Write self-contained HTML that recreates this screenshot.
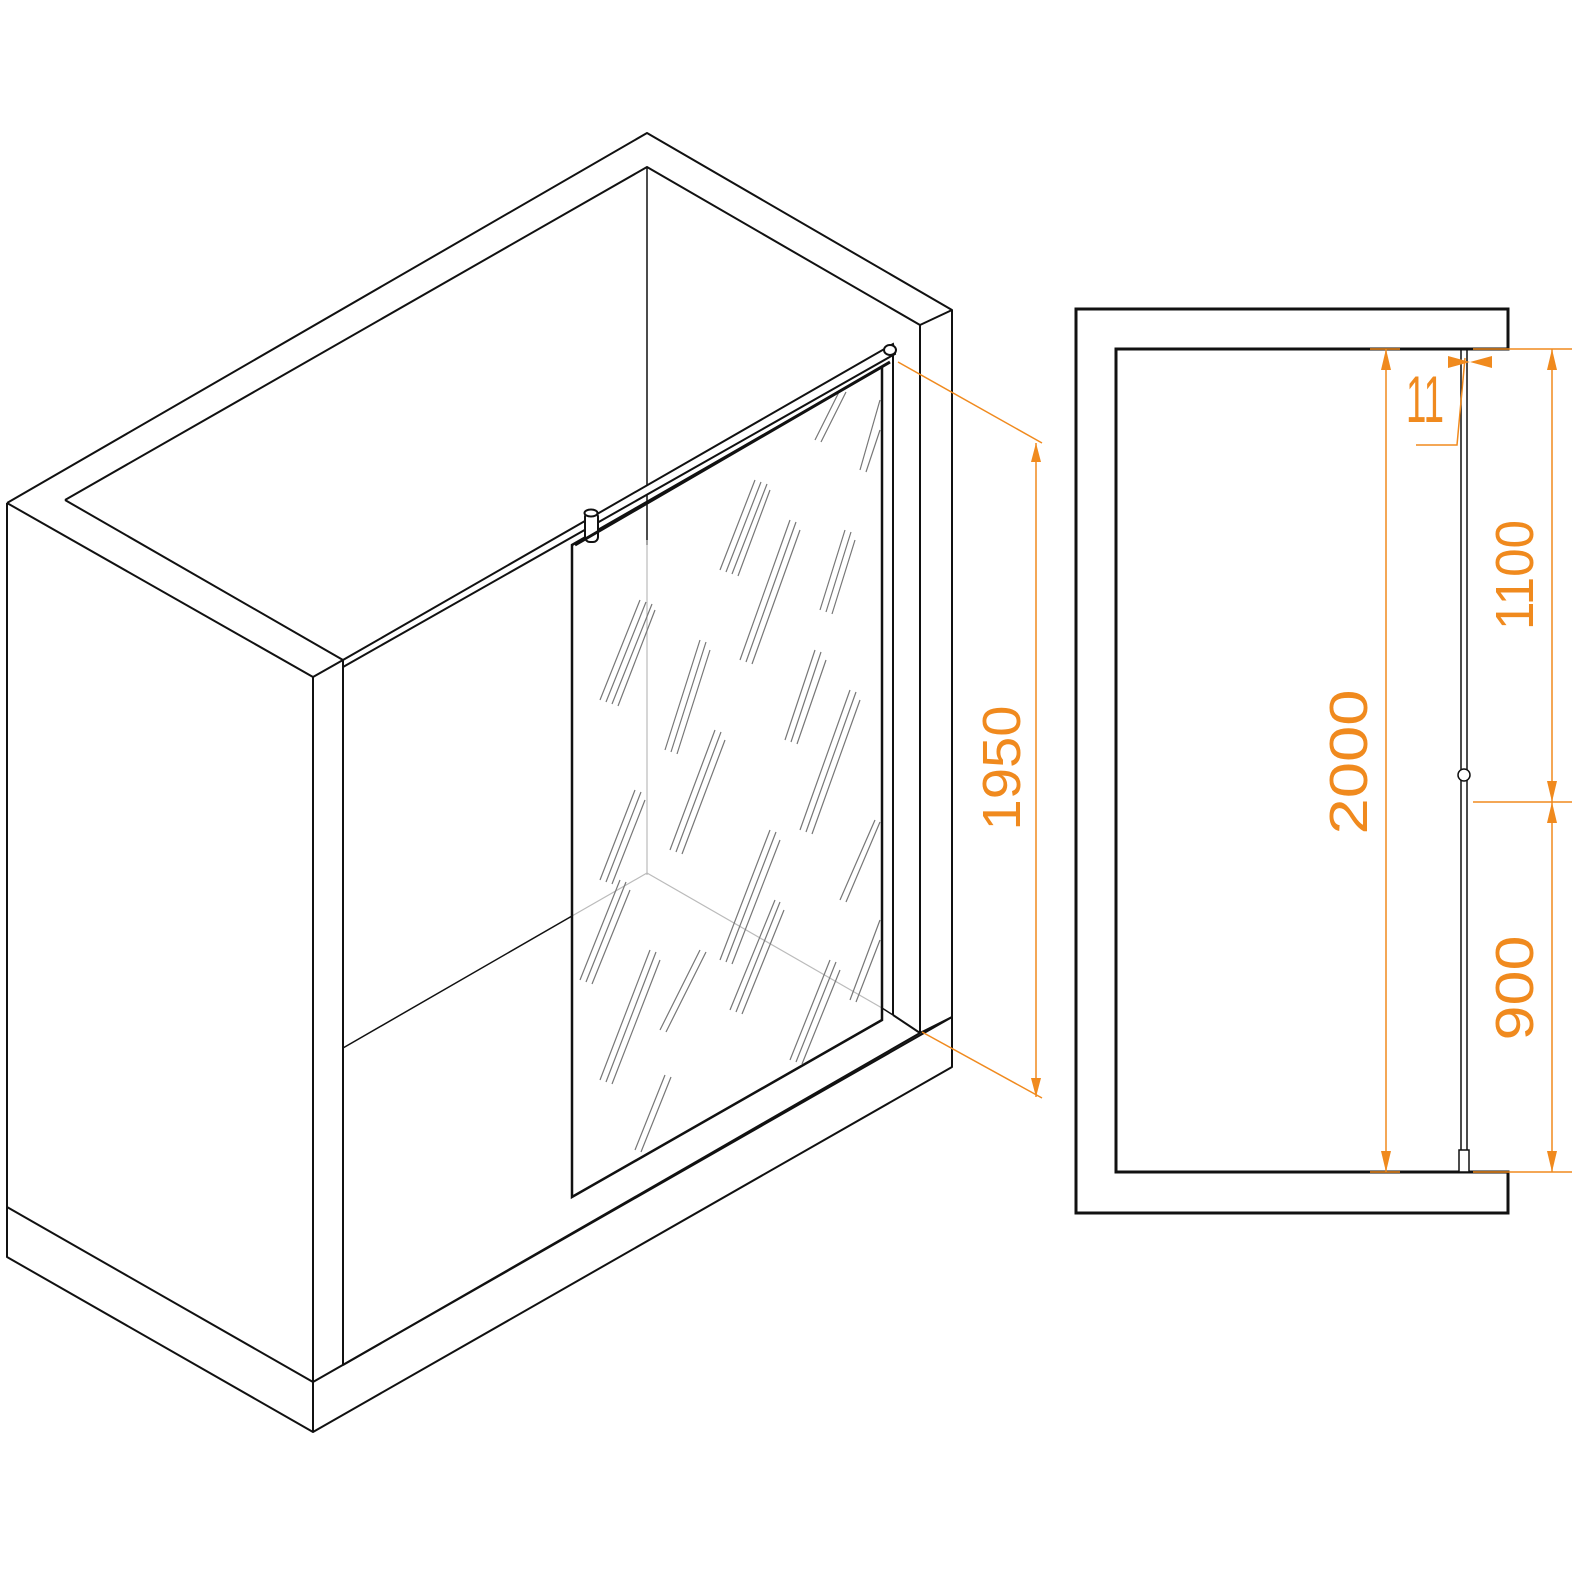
<!DOCTYPE html>
<html><head><meta charset="utf-8"><style>html,body{margin:0;padding:0;background:#fff}svg{display:block}</style></head>
<body>
<svg width="1580" height="1580" viewBox="0 0 1580 1580" xmlns="http://www.w3.org/2000/svg">
<g fill="none" stroke="#111" stroke-width="2" stroke-linejoin="round">
<polyline points="7,503 647,133 952,310 952,1067 313,1432 7,1257 7,503"/>
<line x1="7" y1="503" x2="313" y2="677"/>
<line x1="313" y1="677" x2="313" y2="1432"/>
<line x1="7" y1="1207" x2="313" y2="1382"/>
<line x1="313" y1="1382" x2="952" y2="1017"/>
<line x1="313" y1="677" x2="343" y2="660"/>
<polyline points="65,500 647,167 920,325 952,310"/>
<line x1="65" y1="500" x2="343" y2="660"/>
<line x1="343" y1="660" x2="343" y2="1365"/>
<line x1="343" y1="1365" x2="920" y2="1033"/>
<line x1="920" y1="325" x2="920" y2="1033"/>
<line x1="920" y1="1033" x2="952" y2="1017"/>
<line x1="893" y1="355" x2="893" y2="1015"/>
<line x1="893" y1="1015" x2="920" y2="1033"/>
<line x1="647" y1="167" x2="647" y2="545" stroke-width="1.5"/>
<line x1="343" y1="1048" x2="572" y2="916" stroke-width="1.5"/>
<line x1="882" y1="1008" x2="893" y2="1015" stroke-width="1.5"/>
</g>
<g stroke="#bbb" stroke-width="1.2">
<line x1="572" y1="916" x2="647" y2="873"/>
<line x1="647" y1="873" x2="882" y2="1008"/>
<line x1="647" y1="540" x2="647" y2="875"/>
</g>
<polygon points="572,545 882,367 882,1020 572,1197" fill="none" stroke="#111" stroke-width="2.5"/>
<g stroke="#777" stroke-width="1.2">
<path d="M600 700 L640 600 M606 702 L646 602 M612 704 L652 604 M618 706 L655 610"/>
<path d="M720 570 L755 480 M726 572 L761 482 M732 574 L767 484 M738 576 L770 490"/>
<path d="M740 660 L790 520 M746 662 L796 522 M752 664 L800 530"/>
<path d="M820 610 L845 530 M826 612 L851 532 M832 614 L855 540"/>
<path d="M665 750 L700 640 M671 752 L706 642 M677 754 L710 650"/>
<path d="M785 740 L815 650 M791 742 L821 652 M797 744 L826 660"/>
<path d="M800 830 L850 690 M806 832 L856 692 M812 834 L860 700"/>
<path d="M670 850 L715 730 M676 852 L721 732 M682 854 L725 740"/>
<path d="M720 960 L770 830 M726 962 L776 832 M732 964 L780 840"/>
<path d="M600 880 L635 790 M606 882 L641 792 M612 884 L645 800"/>
<path d="M840 900 L875 820 M846 902 L880 822"/>
<path d="M580 980 L620 880 M586 982 L626 882 M592 984 L630 890"/>
<path d="M600 1080 L650 950 M606 1082 L656 952 M612 1084 L660 960"/>
<path d="M730 1010 L775 900 M736 1012 L780 902 M742 1014 L784 910"/>
<path d="M660 1030 L700 950 M666 1032 L706 952"/>
<path d="M790 1060 L830 960 M796 1062 L836 962 M802 1064 L840 970"/>
<path d="M635 1150 L665 1075 M641 1152 L671 1077"/>
<path d="M850 1000 L880 920 M856 1002 L880 940"/>
<path d="M860 470 L880 400 M866 472 L880 430"/>
<path d="M815 440 L840 390 M821 442 L846 392"/>
</g>
<g fill="#fff" stroke="#111" stroke-width="2">
<polygon points="343,660 343,667 895,354 893,344"/>
<ellipse cx="890" cy="350" rx="6" ry="5"/>
<rect x="585" y="512" width="13" height="30" rx="5"/>
<ellipse cx="591" cy="513" rx="6.5" ry="3.5"/>
</g>
<line x1="575" y1="545" x2="890" y2="362" stroke="#111" stroke-width="3"/>
<g stroke="#f08a1e" stroke-width="1.5" fill="#f08a1e">
<line x1="898" y1="362" x2="1042" y2="443"/>
<line x1="922" y1="1032" x2="1042" y2="1098"/>
<line x1="1036" y1="443" x2="1036" y2="1097"/>
<polygon points="1036,443 1031,462 1041,462" stroke="none"/>
<polygon points="1036,1097 1031,1078 1041,1078" stroke="none"/>
</g>
<path d="M1508,309 L1076,309 L1076,1213 L1508,1213 L1508,1172 L1116,1172 L1116,349 L1508,349 Z" fill="none" stroke="#111" stroke-width="3"/>
<g stroke="#111" stroke-width="1.5" fill="#fff">
<line x1="1461" y1="349" x2="1461" y2="1172"/>
<line x1="1467" y1="349" x2="1467" y2="1172"/>
<rect x="1459" y="1150" width="10" height="22"/>
<circle cx="1464" cy="775" r="6"/>
</g>
<g stroke="#f08a1e" stroke-width="1.5" fill="#f08a1e">
<line x1="1370" y1="349" x2="1400" y2="349"/>
<line x1="1370" y1="1172" x2="1400" y2="1172"/>
<line x1="1386" y1="349" x2="1386" y2="1172"/>
<polygon points="1386,349 1381,370 1391,370" stroke="none"/>
<polygon points="1386,1172 1381,1151 1391,1151" stroke="none"/>
<line x1="1473" y1="349" x2="1572" y2="349"/>
<line x1="1473" y1="802" x2="1572" y2="802"/>
<line x1="1473" y1="1172" x2="1572" y2="1172"/>
<line x1="1552" y1="349" x2="1552" y2="1172"/>
<polygon points="1552,349 1547,370 1557,370" stroke="none"/>
<polygon points="1552,802 1547,781 1557,781" stroke="none"/>
<polygon points="1552,802 1547,823 1557,823" stroke="none"/>
<polygon points="1552,1172 1547,1151 1557,1151" stroke="none"/>
<polygon points="1448,356 1470,362 1448,368" stroke="none"/>
<polygon points="1492,356 1470,362 1492,368" stroke="none"/>
<polyline points="1465,358 1457,445 1416,445" fill="none"/>
</g>
<g font-family="Liberation Sans, sans-serif" fill="#f08a1e" text-anchor="middle">
<text transform="translate(1020,768) rotate(-90)" font-size="54" textLength="125" lengthAdjust="spacingAndGlyphs">1950</text>
<text transform="translate(1367,762) rotate(-90)" font-size="54" textLength="145" lengthAdjust="spacingAndGlyphs">2000</text>
<text transform="translate(1533,575) rotate(-90)" font-size="54" textLength="110" lengthAdjust="spacingAndGlyphs">1100</text>
<text transform="translate(1533,988) rotate(-90)" font-size="54" textLength="105" lengthAdjust="spacingAndGlyphs">900</text>
<text x="1425" y="422" font-size="66" textLength="38" lengthAdjust="spacingAndGlyphs">11</text>
</g>
</svg>
</body></html>
